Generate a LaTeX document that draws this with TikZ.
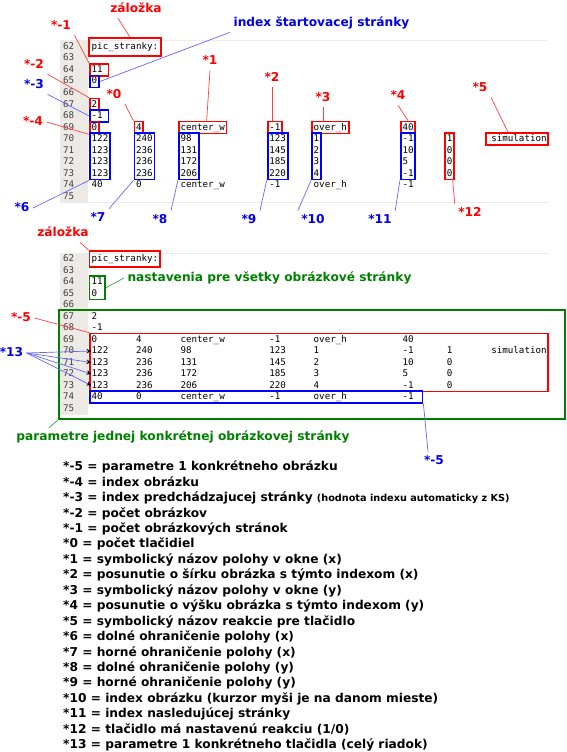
\documentclass[tikz,border=0pt]{standalone}
\usepackage{fontspec}
\setmainfont{DejaVu Sans}
\newfontfamily\codefont{DejaVu Sans Mono}
\usepackage{xcolor}
\usetikzlibrary{arrows.meta,fit}
\definecolor{gutter}{RGB}{237,234,229}
\definecolor{okgreen}{RGB}{0,128,0}
\definecolor{lblue}{RGB}{0,0,235}

\begin{document}
\begin{tikzpicture}[x=1pt,y=-1pt,>=Stealth,
  lbl/.style={font=\bfseries\fontsize{12.2}{14}\selectfont, text height=9pt, text depth=2.5pt},
  rlbl/.style={lbl, text=red},
  blbl/.style={lbl, text=lblue},
  glbl/.style={lbl, text=okgreen},
  code/.style={font=\codefont\fontsize{9.2}{11}\selectfont, inner sep=0pt, inner ysep=0.75pt,
    text height=7.5pt, text depth=2.5pt, anchor=west},
  lnum/.style={code, text=black!75},
  rbox/.style={draw=red, line width=1.8pt, inner xsep=1.5pt, inner ysep=0pt},
  bbox/.style={rbox, draw=blue},
  gbox/.style={rbox, draw=okgreen},
  rline/.style={red!75, line width=0.7pt},
  bline/.style={blue!60, line width=0.7pt},
  gline/.style={okgreen!75, line width=0.7pt},
  defn/.style={font=\bfseries\fontsize{12.2}{14}\selectfont, anchor=west, inner sep=0pt,
    text height=9pt, text depth=2.5pt}
]
\useasboundingbox (0,0) rectangle (567,752);
\fill[gutter] (60,40) rectangle (88,202);
\fill[gutter] (60,253) rectangle (88,415);
\draw[black!8] (60,40) -- (548,40) (60,202) -- (548,202) (60,253) -- (548,253);

\foreach \s/\o in {t/0,m/212} {
  \foreach \r in {62,...,75} {
    \pgfmathsetmacro\yy{47+\o+(\r-62)*11.5}
    \node[lnum] (\s-n\r) at (63,\yy) {\r};
  }
  \foreach \r/\v in {62/pic\_stranky:, 64/11, 65/0, 67/2, 68/-1} {
    \pgfmathsetmacro\yy{47+\o+(\r-62)*11.5}
    \node[code] (\s\r-0) at (91.5,\yy) {\v};
  }
  \foreach \r/\a/\b/\f in {69/0/4/40, 74/40/0/-1} {
    \pgfmathsetmacro\yy{47+\o+(\r-62)*11.5}
    \node[code] (\s\r-0) at (91.5,\yy) {\a};
    \node[code] (\s\r-1) at (135.9,\yy) {\b};
    \node[code] (\s\r-2) at (180.3,\yy) {center\_w};
    \node[code] (\s\r-4) at (269.1,\yy) {-1};
    \node[code] (\s\r-5) at (313.5,\yy) {over\_h};
    \node[code] (\s\r-7) at (402.3,\yy) {\f};
  }
  \foreach \r/\a/\b/\c/\d/\e/\f/\g in {70/122/240/98/123/1/-1/1, 71/123/236/131/145/2/10/0,
      72/123/236/172/185/3/5/0, 73/123/236/206/220/4/-1/0} {
    \pgfmathsetmacro\yy{47+\o+(\r-62)*11.5}
    \node[code] (\s\r-0) at (91.5,\yy) {\a};
    \node[code] (\s\r-1) at (135.9,\yy) {\b};
    \node[code] (\s\r-2) at (180.3,\yy) {\c};
    \node[code] (\s\r-4) at (269.1,\yy) {\d};
    \node[code] (\s\r-5) at (313.5,\yy) {\e};
    \node[code] (\s\r-7) at (402.3,\yy) {\f};
    \node[code] (\s\r-8) at (446.7,\yy) {\g};
  }
  \node[code] (\s70-9) at (491.1,139+\o) {simulation};
}

\node[rbox, inner xsep=2.5pt, inner ysep=3pt, fit=(t62-0)] (t-zal) {};
\node[rbox, fit={(t64-0.north west) ([xshift=4pt]t64-0.south east)}] (t-b64) {};
\node[bbox, fit=(t65-0)] (t-b65) {};
\node[rbox, fit=(t67-0)] (t-b67) {};
\node[bbox, fit={(t68-0.north west) ([xshift=4pt]t68-0.south east)}] (t-b68) {};
\foreach \k in {0,1,2,4,5,7} {
  \node[rbox, fit=(t69-\k)] (t-h\k) {};
  \node[bbox, fit=(t70-\k) (t73-\k)] (t-c\k) {};
}
\node[rbox, fit=(t70-8) (t73-8)] (t-c8) {};
\node[rbox, fit={([xshift=-4pt]t70-9.north west) (t70-9)}] (t-sim) {};

\node[rlbl] (t-lz) at (136,9) {záložka};
\node[blbl] (t-lidx) at (321.5,23) {index štartovacej stránky};
\node[rlbl] (t-lm1) at (61,26) {*-1};
\node[rlbl] (t-lm2) at (34,65) {*-2};
\node[blbl] (t-lm3) at (34,85) {*-3};
\node[rlbl] (t-l0) at (114,95) {*0};
\node[rlbl] (t-lm4) at (33,122) {*-4};
\node[rlbl] (t-l1) at (210,61) {*1};
\node[rlbl] (t-l2) at (272,78) {*2};
\node[rlbl] (t-l3) at (323,98) {*3};
\node[rlbl] (t-l4) at (398,96) {*4};
\node[rlbl] (t-l5) at (480,88) {*5};
\node[blbl] (t-l6) at (22,208) {*6};
\node[blbl] (t-l7) at (98,218) {*7};
\node[blbl] (t-l8) at (160,220) {*8};
\node[blbl] (t-l9) at (249,220) {*9};
\node[blbl] (t-l10) at (313,220) {*10};
\node[blbl] (t-l11) at (380,220) {*11};
\node[rlbl] (t-l12) at (470,213) {*12};

\draw[rline] ([xshift=-18pt]t-lz.south) -- ([xshift=5pt]t-zal.north);
\draw[bline] (t-lidx.south west) -- (t-b65.east);
\draw[rline] (t-lm1.south east) -- (t-b64.north west);
\draw[rline] (t-lm2.south east) -- (t-b67.north west);
\draw[bline] (t-lm3.south east) -- (t-b68.west);
\draw[rline] (t-l0.south east) -- (t-h1.north west);
\draw[rline] (t-lm4.east) -- (t-h0.south west);
\draw[rline] (t-l1.south) -- ([xshift=4pt]t-h2.north);
\draw[rline] (t-l2.south) -- (t-l2.south |- t-h4.north);
\draw[rline] (t-l3.south) -- (t-l3.south |- t-h5.north);
\draw[rline] (t-l4.south) -- (t-h7.north);
\draw[rline] (t-l5.south east) -- ([xshift=-9pt]t-sim.north);
\draw[bline] (t-l6.east) -- (t-c0.south west);
\draw[bline] (t-l7.north east) -- (t-c1.south west);
\draw[bline] (t-l8.north east) -- (t-c2.south west);
\draw[bline] (t-l9.north east) -- (t-c4.south west);
\draw[bline] (t-l10.north west) -- (t-c5.south west);
\draw[bline] (t-l11.north east) -- (t-c7.south west);
\draw[rline] (t-l12.north west) -- ([xshift=3pt]t-c8.south);

\node[rbox, inner xsep=2pt, inner ysep=2pt, fit=(m62-0)] (m-zal) {};
\node[gbox, inner xsep=2pt, fit=(m64-0) (m65-0)] (m-set) {};
\node[gbox, inner sep=0pt, fit={(59,310) (565,419)}] (m-page) {};
\node[rbox, fit=(m69-0) (m73-0) (m70-9)] (m-par) {};
\node[bbox, fit={(m74-0) (421,397)}] (m-one) {};

\node[rlbl] (m-lz) at (63,233) {záložka};
\node[glbl] (m-lset) at (269.5,278) {nastavenia pre všetky obrázkové stránky};
\node[rlbl] (m-lm5) at (21,318) {*-5};
\node[blbl] (m-l13) at (11.5,353) {*13};
\node[glbl] (m-lpage) at (183,437) {parametre jednej konkrétnej obrázkovej stránky};
\node[blbl] (m-lone) at (434,461) {*-5};

\draw[rline] ([xshift=17pt]m-lz.south) -- (m-zal.north west);
\draw[gline] (m-set.east) -- (m-lset.west);
\draw[rline] (m-lm5.east) -- (m-par.north west);
\foreach \r in {70,...,73}
  \draw[bline, -{Stealth[black, length=5pt, width=4.5pt]}] (m-l13.east) -- (m\r-0.west);
\draw[gline] ([xshift=36pt]m-lpage.north west) -- (m-page.south west);
\draw[bline] (m-one.south east) -- ([xshift=-6pt]m-lone.north);

\foreach \t [count=\i] in {*-5 = parametre 1 konkrétneho obrázku,
    *-4 = index obrázku,
    {*-3 = index predchádzajucej stránky {\fontsize{9.7}{11}\selectfont(hodnota indexu automaticky z KS)}},
    *-2 = počet obrázkov,
    *-1 = počet obrázkových stránok,
    *0 = počet tlačidiel,
    *1 = symbolický názov polohy v okne (x),
    *2 = posunutie o šírku obrázka s týmto indexom (x),
    *3 = symbolický názov polohy v okne (y),
    *4 = posunutie o výšku obrázka s týmto indexom (y),
    *5 = symbolický názov reakcie pre tlačidlo,
    *6 = dolné ohraničenie polohy (x),
    *7 = horné ohraničenie polohy (x),
    *8 = dolné ohraničenie polohy (y),
    *9 = horné ohraničenie polohy (y),
    *10 = index obrázku (kurzor myši je na danom mieste),
    *11 = index nasledujúcej stránky,
    *12 = tlačidlo má nastavenú reakciu (1/0),
    *13 = parametre 1 konkrétneho tlačidla (celý riadok)}
  \node[defn] (d\i) at (63,467.5+15.44*\i-15.44) {\t};
\end{tikzpicture}
\end{document}
